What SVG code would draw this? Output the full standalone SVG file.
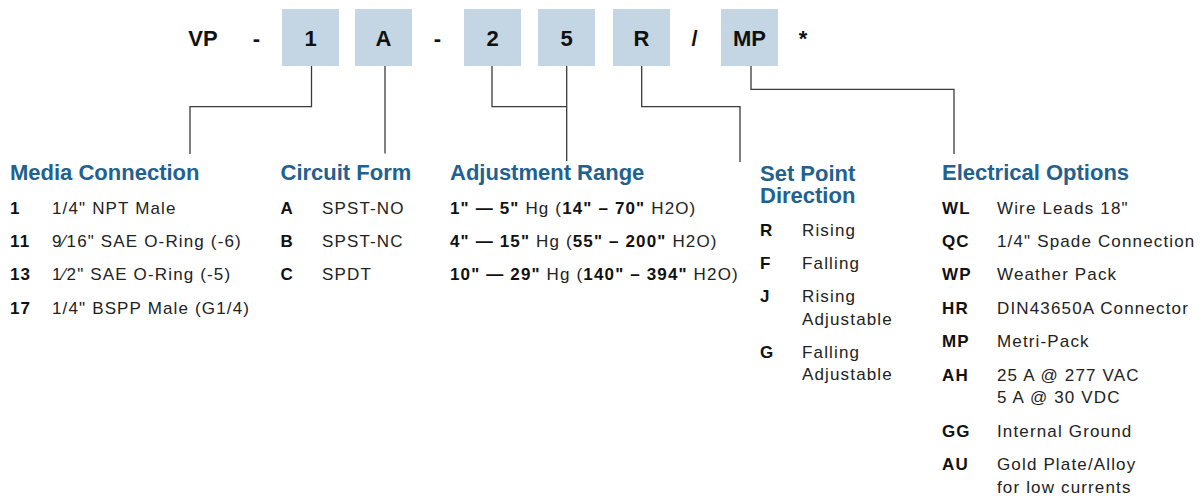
<svg xmlns="http://www.w3.org/2000/svg" width="1204" height="498" viewBox="0 0 1204 498">
<style>
.code{font-family:"Liberation Sans",Arial,sans-serif;font-weight:bold;font-size:22px;fill:#111;text-anchor:middle}
.box{fill:#c4d6e3}
.h{font-family:"Liberation Sans",Arial,sans-serif;font-weight:bold;font-size:22px;fill:#22618f}
.t{font-family:"Liberation Sans",Arial,sans-serif;font-size:17px;fill:#222;letter-spacing:1.15px}
.b{font-weight:bold;fill:#111}
.ln{fill:none;stroke:#3a3a3a;stroke-width:1.3}
</style>
<rect width="1204" height="498" fill="#fff"/>
<g id="code-row">
<text class="code" x="203" y="46">VP</text>
<text class="code" x="256.5" y="46">-</text>
<g id="box-1"><rect class="box" x="282" y="9" width="57" height="57"/><text class="code" x="310.5" y="46">1</text></g>
<g id="box-A"><rect class="box" x="355" y="9" width="57" height="57"/><text class="code" x="383.5" y="46">A</text></g>
<text class="code" x="437.5" y="46">-</text>
<g id="box-2"><rect class="box" x="464" y="9" width="57" height="57"/><text class="code" x="492.5" y="46">2</text></g>
<g id="box-5"><rect class="box" x="538" y="9" width="57" height="57"/><text class="code" x="566.5" y="46">5</text></g>
<g id="box-R"><rect class="box" x="613" y="9" width="57" height="57"/><text class="code" x="641.5" y="46">R</text></g>
<text class="code" x="694.5" y="46">/</text>
<g id="box-MP"><rect class="box" x="721" y="9" width="57" height="57"/><text class="code" x="749.5" y="46">MP</text></g>
<text class="code" x="803" y="46">*</text>
</g>
<g id="connectors">
<polyline class="ln" points="311.5,66 311.5,106.7 190,106.7 190,154"/>
<polyline class="ln" points="385,66 385,153.5"/>
<polyline class="ln" points="492,66 492,106.7 566.7,106.7"/>
<polyline class="ln" points="566.7,66 566.7,161"/>
<polyline class="ln" points="641.7,66 641.7,106.7 740,106.7 740,162"/>
<polyline class="ln" points="751,66 751,89.3 954,89.3 954,154"/>
</g>
<g id="media-connection">
<text class="h" x="10" y="180">Media Connection</text>
<text class="t b" x="10" y="213.5">1</text><text class="t" x="52" y="213.5">1/4" NPT Male</text>
<text class="t b" x="10" y="247">11</text><text class="t" x="52" y="247">9⁄16" SAE O-Ring (-6)</text>
<text class="t b" x="10" y="280.3">13</text><text class="t" x="52" y="280.3">1⁄2" SAE O-Ring (-5)</text>
<text class="t b" x="10" y="313.5">17</text><text class="t" x="52" y="313.5">1/4" BSPP Male (G1/4)</text>
</g>
<g id="circuit-form">
<text class="h" x="280.5" y="180">Circuit Form</text>
<text class="t b" x="280.5" y="213.5">A</text><text class="t" x="322" y="213.5">SPST-NO</text>
<text class="t b" x="280.5" y="247">B</text><text class="t" x="322" y="247">SPST-NC</text>
<text class="t b" x="280.5" y="280.3">C</text><text class="t" x="322" y="280.3">SPDT</text>
</g>
<g id="adjustment-range">
<text class="h" x="450" y="180">Adjustment Range</text>
<text class="t" x="450" y="213.5"><tspan class="b">1" — 5"</tspan> Hg (<tspan class="b">14" – 70"</tspan> H2O)</text>
<text class="t" x="450" y="247"><tspan class="b">4" — 15"</tspan> Hg (<tspan class="b">55" – 200"</tspan> H2O)</text>
<text class="t" x="450" y="280.3"><tspan class="b">10" — 29"</tspan> Hg (<tspan class="b">140" – 394"</tspan> H2O)</text>
</g>
<g id="set-point-direction">
<text class="h" x="760" y="181">Set Point</text>
<text class="h" x="760" y="203">Direction</text>
<text class="t b" x="760" y="235.5">R</text><text class="t" x="802" y="235.5">Rising</text>
<text class="t b" x="760" y="269">F</text><text class="t" x="802" y="269">Falling</text>
<text class="t b" x="760" y="302.3">J</text><text class="t" x="802" y="302.3">Rising</text><text class="t" x="802" y="324.5">Adjustable</text>
<text class="t b" x="760" y="358">G</text><text class="t" x="802" y="358">Falling</text><text class="t" x="802" y="380">Adjustable</text>
</g>
<g id="electrical-options">
<text class="h" x="942" y="180">Electrical Options</text>
<text class="t b" x="942" y="213.5">WL</text><text class="t" x="997" y="213.5">Wire Leads 18"</text>
<text class="t b" x="942" y="247">QC</text><text class="t" x="997" y="247">1/4" Spade Connection</text>
<text class="t b" x="942" y="280.3">WP</text><text class="t" x="997" y="280.3">Weather Pack</text>
<text class="t b" x="942" y="313.5">HR</text><text class="t" x="997" y="313.5">DIN43650A Connector</text>
<text class="t b" x="942" y="347.3">MP</text><text class="t" x="997" y="347.3">Metri-Pack</text>
<text class="t b" x="942" y="380.7">AH</text><text class="t" x="997" y="380.7">25 A @ 277 VAC</text><text class="t" x="997" y="402.7">5 A @ 30 VDC</text>
<text class="t b" x="942" y="436.7">GG</text><text class="t" x="997" y="436.7">Internal Ground</text>
<text class="t b" x="942" y="470">AU</text><text class="t" x="997" y="470">Gold Plate/Alloy</text><text class="t" x="997" y="492.7">for low currents</text>
</g>
</svg>
